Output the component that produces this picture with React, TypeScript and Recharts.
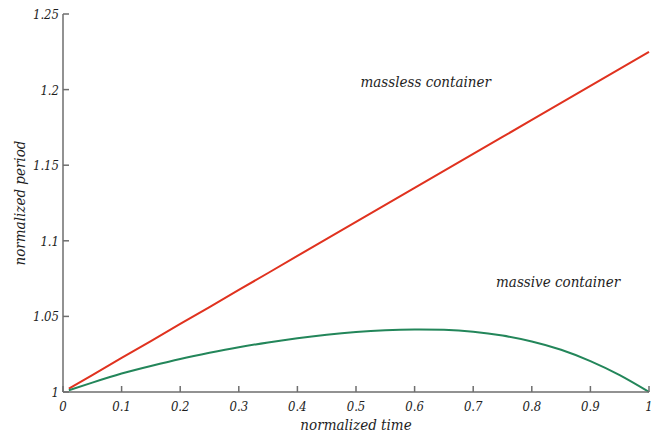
import { LineChart, Line, XAxis, YAxis, ReferenceDot } from 'recharts';

// normalized time samples
const time = [0.01, 0.05, 0.1, 0.15, 0.2, 0.25, 0.3, 0.35, 0.4, 0.45, 0.5, 0.55, 0.6, 0.65, 0.7, 0.75, 0.8, 0.85, 0.9, 0.95, 1.0];

// massless container (straight red line)
const massless = [1.0022, 1.0112, 1.0225, 1.0337, 1.045, 1.0562, 1.0675, 1.0787, 1.09, 1.1012, 1.1125, 1.1237, 1.135, 1.1462, 1.1575, 1.1687, 1.18, 1.1912, 1.2025, 1.2137, 1.225];

// massive container (green curve)
const massive = [1.0012, 1.0062, 1.0122, 1.0172, 1.0218, 1.0259, 1.0296, 1.0328, 1.0356, 1.0379, 1.0397, 1.0409, 1.0414, 1.0411, 1.0398, 1.0373, 1.0334, 1.0279, 1.0204, 1.0111, 1.0];

const xTicks = [0, 0.1, 0.2, 0.3, 0.4, 0.5, 0.6, 0.7, 0.8, 0.9, 1];
const yTicks = [1, 1.05, 1.1, 1.15, 1.2, 1.25];

const chartData = time.map((t, i) => ({ t, massless: massless[i], massive: massive[i] }));

const FONT = '"DejaVu Serif Condensed", "DejaVu Serif", serif';
const AXIS = '#6e6e6e';
const TEXT = '#1e1e1e';

const fmt = (v: number) => String(Number(v.toFixed(2)));

const BottomTick = ({ x, y, payload }: any) => (
  <g>
    <line x1={x} y1={y} x2={x} y2={y - 6} stroke={AXIS} strokeWidth={1.5} />
    <text x={x} y={y + 18.5} textAnchor="middle" fontFamily={FONT} fontStyle="italic" fontSize={13} fill={TEXT}>
      {fmt(payload.value)}
    </text>
  </g>
);

const TopTick = ({ x, y }: any) => (
  <line x1={x} y1={y} x2={x} y2={y + 6} stroke={AXIS} strokeWidth={1.5} />
);

const LeftTick = ({ x, y, payload }: any) => (
  <g>
    <line x1={x} y1={y} x2={x + 6} y2={y} stroke={AXIS} strokeWidth={1.5} />
    <text x={x - 4} y={y + 5} textAnchor="end" fontFamily={FONT} fontStyle="italic" fontSize={13} fill={TEXT}>
      {fmt(payload.value)}
    </text>
  </g>
);

const RightTick = ({ x, y }: any) => (
  <line x1={x} y1={y} x2={x - 6} y2={y} stroke={AXIS} strokeWidth={1.5} />
);

const XTitle = ({ viewBox }: any) => (
  <text x={viewBox.x + viewBox.width / 2} y={viewBox.y + 38} textAnchor="middle" fontFamily={FONT} fontStyle="italic" fontSize={15} fill={TEXT}>
    normalized time
  </text>
);

const YTitle = ({ viewBox }: any) => {
  const cx = viewBox.x + 25;
  const cy = viewBox.y + viewBox.height / 2;
  return (
    <text transform={`translate(${cx},${cy}) rotate(-90)`} textAnchor="middle" fontFamily={FONT} fontStyle="italic" fontSize={15} fill={TEXT}>
      normalized period
    </text>
  );
};

const annotation = (text: string) => ({
  value: text,
  position: 'center' as const,
  fontFamily: FONT,
  fontStyle: 'italic',
  fontSize: 15,
  fill: TEXT,
});

export default function App() {
  return (
    <div style={{ position: 'absolute', left: 0, top: 0, background: '#fff', fontFamily: FONT }}>
      <LineChart width={657} height={434} data={chartData} margin={{ top: 14, right: 8, left: 0, bottom: 0 }}>
        <XAxis
          dataKey="t"
          type="number"
          domain={[0, 1]}
          ticks={xTicks}
          interval={0}
          height={42}
          tickSize={0}
          tickMargin={0}
          tickLine={false}
          axisLine={{ stroke: AXIS, strokeWidth: 1.5 }}
          tick={<BottomTick />}
          label={<XTitle />}
        />
        <XAxis
          xAxisId="top"
          orientation="top"
          dataKey="t"
          type="number"
          domain={[0, 1]}
          ticks={xTicks}
          interval={0}
          height={0}
          tickSize={0}
          tickMargin={0}
          tickLine={false}
          axisLine={{ stroke: AXIS, strokeWidth: 1.5 }}
          tick={<TopTick />}
        />
        <YAxis
          type="number"
          domain={[1, 1.25]}
          ticks={yTicks}
          interval={0}
          width={63}
          tickSize={0}
          tickMargin={0}
          tickLine={false}
          axisLine={{ stroke: AXIS, strokeWidth: 1.5 }}
          tick={<LeftTick />}
          label={<YTitle />}
        />
        <YAxis
          yAxisId="right"
          orientation="right"
          type="number"
          domain={[1, 1.25]}
          ticks={yTicks}
          interval={0}
          width={0}
          tickSize={0}
          tickMargin={0}
          tickLine={false}
          axisLine={{ stroke: AXIS, strokeWidth: 1.5 }}
          tick={<RightTick />}
        />
        <Line type="linear" dataKey="massless" stroke="#e0321f" strokeWidth={2} dot={false} isAnimationActive={false} />
        <Line type="natural" dataKey="massive" stroke="#23865a" strokeWidth={2} dot={false} isAnimationActive={false} />
        <ReferenceDot x={0.619} y={1.205} r={0} fill="none" stroke="none" label={annotation('massless container')} />
        <ReferenceDot x={0.845} y={1.0727} r={0} fill="none" stroke="none" label={annotation('massive container')} />
      </LineChart>
    </div>
  );
}
